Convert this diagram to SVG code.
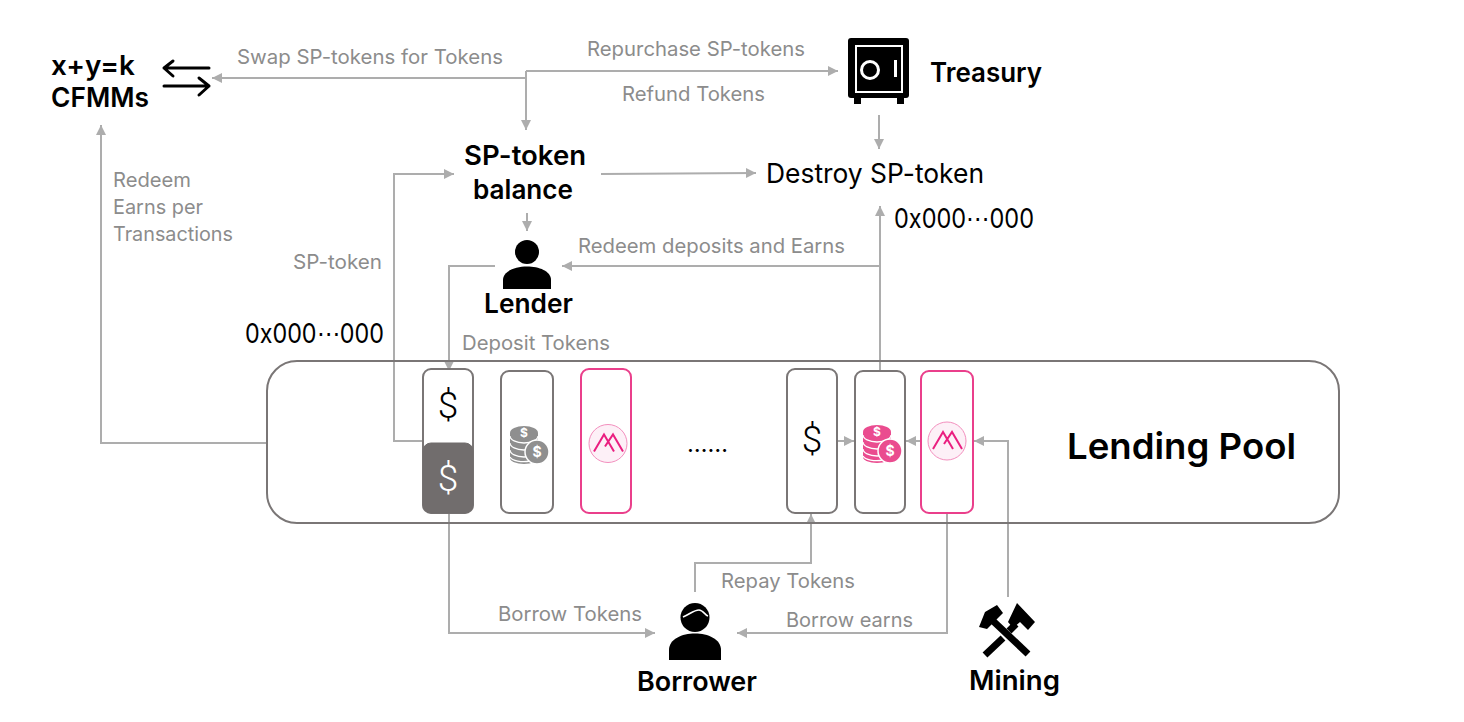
<svg xmlns="http://www.w3.org/2000/svg" width="1464" height="722" viewBox="0 0 1464 722">
<style>
text{font-family:Inter,"Noto Sans","Liberation Sans",sans-serif}
.l{font-size:20px;fill:#8c8c8c}
.b{font-size:27px;font-weight:600;fill:#000}
.n{font-size:27px;fill:#000}
.c{fill:none;stroke:#adadad;stroke-width:2}
.k{fill:none;stroke:#000;stroke-width:3;stroke-linecap:round;stroke-linejoin:round}
.card{fill:#fff;stroke:#7a7676;stroke-width:2}
.pink{fill:#fff;stroke:#ea3f8b;stroke-width:2}
.d{font-size:37px;font-weight:300;font-family:Roboto,"Noto Sans",sans-serif}
.w{fill:none;stroke:#fff;stroke-width:1.3}
.cd{font-size:12px;font-weight:700;fill:#fff}
.h{stroke:#000;stroke-width:7;fill:none}
</style>
<defs>
<marker id="a" markerUnits="userSpaceOnUse" markerWidth="12" markerHeight="12" refX="10" refY="6" orient="auto"><path d="M0 1L10 6L0 11z" fill="#adadad"/></marker>
<g id="coins"><path d="M-17-11A14 7 0 0 1 11-11V14A14 6 0 0 1-17 14z"/><path class="w" d="M-17-8A14 7 0 0 0 11-8M-17-1A14 7 0 0 0 11-1M-17 6A14 7 0 0 0 11 6M-17 13A14 6 0 0 0 3 17"/><circle cx="10" cy="8" r="12" stroke="#fff" stroke-width="1.5"/><text class="cd" x="-3" y="-7" text-anchor="middle">$</text><text class="cd" x="10" y="12.500" text-anchor="middle" font-size="14" style="font-size:14px">$</text></g>
<g id="mark"><circle r="19" fill="#fdf0f7" stroke="#f38fbe" stroke-width="1"/><path d="M-14 8L-4-9L6 8M-3 3L5-9L15 8" fill="none" stroke="#ea1f80" stroke-width="2"/></g>
</defs>
<g id="connectors">
<path class="c" d="M526 78H212" marker-end="url(#a)"/>
<path class="c" d="M526 71V130" marker-end="url(#a)"/>
<path class="c" d="M526 71H838" marker-end="url(#a)"/>
<path class="c" d="M879 115V149" marker-end="url(#a)"/>
<path class="c" d="M601 174L756 173" marker-end="url(#a)"/>
<path class="c" d="M527 213V231" marker-end="url(#a)"/>
<path class="c" d="M880 371V206" marker-end="url(#a)"/>
<path class="c" d="M880 266H562" marker-end="url(#a)"/>
<path class="c" d="M495 266H449V371" marker-end="url(#a)"/>
<path class="c" d="M423 441H394V174H454" marker-end="url(#a)"/>
<path class="c" d="M267 443H101V125" marker-end="url(#a)"/>
<path class="c" d="M449 514V633H655" marker-end="url(#a)"/>
<path class="c" d="M695 592V563H811V514" marker-end="url(#a)"/>
<path class="c" d="M947 514V633H737" marker-end="url(#a)"/>
<path class="c" d="M1008 597V441H974" marker-end="url(#a)"/>
<path class="c" d="M838 441H854" marker-end="url(#a)"/>
<path class="c" d="M921 441H906" marker-end="url(#a)"/>
</g>
<g id="pool"><rect x="267" y="361" width="1072" height="162" rx="30" fill="none" stroke="#7a7676" stroke-width="2"/><text x="1067" y="459" font-size="36" font-weight="600" fill="#000" textLength="229" lengthAdjust="spacingAndGlyphs">Lending Pool</text><text x="687" y="452" font-size="22" fill="#000" textLength="41" lengthAdjust="spacingAndGlyphs">……</text></g>
<g id="token-a"><rect class="card" x="423" y="369" width="50" height="144" rx="8"/><path d="M423 451a8 8 0 0 1 8-8h34a8 8 0 0 1 8 8v54a8 8 0 0 1-8 8h-34a8 8 0 0 1-8-8z" fill="#716d6d" stroke="#716d6d" stroke-width="1"/><text class="d" x="448" y="418" text-anchor="middle">$</text><text class="d" x="448" y="491" text-anchor="middle" fill="#fff">$</text></g>
<g id="token-b"><rect class="card" x="501" y="371" width="52" height="142" rx="8"/><use href="#coins" x="527" y="444" fill="#8f8f8f"/></g>
<g id="token-c"><rect class="pink" x="581" y="369" width="50" height="144" rx="8"/><use href="#mark" x="608" y="443.5"/></g>
<g id="token-d"><rect class="card" x="787" y="369" width="50" height="144" rx="8"/><text class="d" x="812" y="452" text-anchor="middle">$</text></g>
<g id="token-e"><rect class="card" x="855" y="371" width="50" height="142" rx="8"/><use href="#coins" x="880" y="443" fill="#ea4c8f"/></g>
<g id="token-f"><rect class="pink" x="921" y="371" width="52" height="142" rx="8"/><use href="#mark" x="947" y="441"/></g>
<g id="cfmm"><text class="b" x="51" y="75" textLength="84" lengthAdjust="spacingAndGlyphs">x+y=k</text><text class="b" x="51" y="107" textLength="98" lengthAdjust="spacingAndGlyphs">CFMMs</text><path class="k" d="M209 68H164M173 61L164 68L173 76M164 86H209M199 78L209 86L199 95"/></g>
<g id="treasury"><rect x="848" y="38" width="61" height="60" rx="3" fill="#000"/><rect x="855" y="45" width="48" height="48" fill="#fff"/><rect x="857" y="47" width="44" height="44" fill="#000"/><circle cx="870" cy="70" r="8.500" fill="none" stroke="#fff" stroke-width="3"/><rect x="894" y="60" width="3" height="17" fill="#fff"/><rect x="854" y="98" width="7" height="6" fill="#000"/><rect x="897" y="98" width="7" height="6" fill="#000"/><text class="b" x="930" y="82" textLength="112" lengthAdjust="spacingAndGlyphs">Treasury</text></g>
<g id="balance"><text class="b" x="464" y="165" textLength="122" lengthAdjust="spacingAndGlyphs">SP-token</text><text class="b" x="473" y="199" textLength="100" lengthAdjust="spacingAndGlyphs">balance</text></g>
<g id="destroy"><text class="n" x="766" y="183" textLength="218" lengthAdjust="spacingAndGlyphs">Destroy SP-token</text></g>
<g id="lender"><circle cx="527" cy="252" r="12"/><path d="M503 289V280C503 262 551 262 551 280V289z"/><text class="b" x="484" y="313" textLength="89" lengthAdjust="spacingAndGlyphs">Lender</text></g>
<g id="borrower"><circle cx="695" cy="617.500" r="14.500"/><path d="M669 660V650C669 628 721 628 721 650V660z"/><path d="M683 617C690 614 694 610 699 610C703 610 705 615 708 616" fill="none" stroke="#fff" stroke-width="1.600"/><text class="b" x="637" y="691" textLength="120" lengthAdjust="spacingAndGlyphs">Borrower</text></g>
<g id="mining"><path class="h" d="M992 620L1028 654"/><path class="h" d="M985 655L1003 638M1009 631L1016 624"/><path d="M979 627L985 612L997 605L1003 613L987 629zM1008 622L1017 603L1035 622L1028 630L1020 622L1013 628z"/><text class="b" x="969" y="690" textLength="91" lengthAdjust="spacingAndGlyphs">Mining</text></g>
<g id="labels">
<text class="l" x="237" y="64" textLength="266" lengthAdjust="spacingAndGlyphs">Swap SP-tokens for Tokens</text>
<text class="l" x="587" y="56" textLength="218" lengthAdjust="spacingAndGlyphs">Repurchase SP-tokens</text>
<text class="l" x="622" y="101" textLength="143" lengthAdjust="spacingAndGlyphs">Refund Tokens</text>
<text class="l" x="113" y="187" textLength="78" lengthAdjust="spacingAndGlyphs">Redeem</text>
<text class="l" x="113" y="214" textLength="90" lengthAdjust="spacingAndGlyphs">Earns per</text>
<text class="l" x="113" y="241" textLength="120" lengthAdjust="spacingAndGlyphs">Transactions</text>
<text class="l" x="293" y="269" textLength="89" lengthAdjust="spacingAndGlyphs">SP-token</text>
<text class="l" x="578" y="253" textLength="267" lengthAdjust="spacingAndGlyphs">Redeem deposits and Earns</text>
<text class="l" x="462" y="350" textLength="148" lengthAdjust="spacingAndGlyphs">Deposit Tokens</text>
<text class="l" x="721" y="588" textLength="134" lengthAdjust="spacingAndGlyphs">Repay Tokens</text>
<text class="l" x="498" y="621" textLength="144" lengthAdjust="spacingAndGlyphs">Borrow Tokens</text>
<text class="l" x="786" y="627" textLength="127" lengthAdjust="spacingAndGlyphs">Borrow earns</text>
<text class="n" x="245" y="343" textLength="139" lengthAdjust="spacingAndGlyphs">0x000⋯000</text>
<text class="n" x="894" y="228" textLength="140" lengthAdjust="spacingAndGlyphs">0x000⋯000</text>
</g>
</svg>
